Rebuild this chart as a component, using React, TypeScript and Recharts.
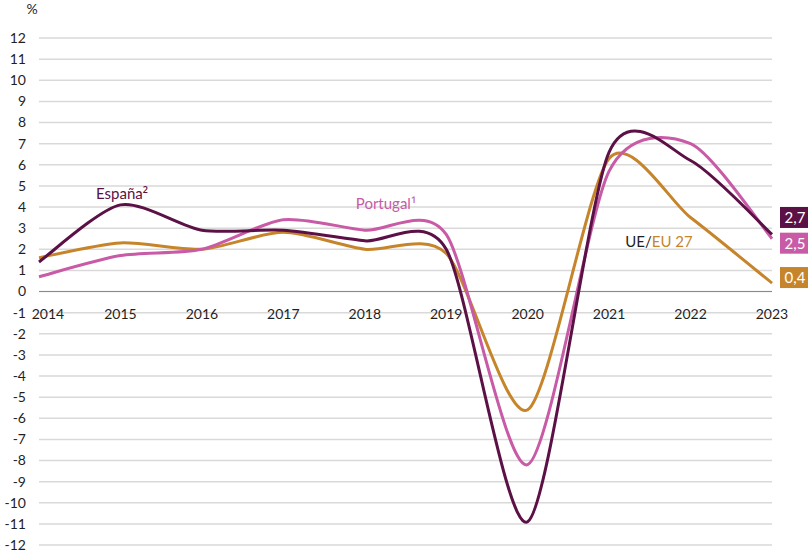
import { LineChart, Line, XAxis, YAxis, CartesianGrid, ReferenceLine, LabelList } from 'recharts';

const years = ['2014', '2015', '2016', '2017', '2018', '2019', '2020', '2021', '2022', '2023'];
const espana = [1.4, 4.1, 2.9, 2.9, 2.4, 2.0, -10.9, 6.6, 6.2, 2.7];
const portugal = [0.7, 1.7, 2.0, 3.4, 2.9, 2.7, -8.2, 5.7, 7.0, 2.5];
const eu27 = [1.6, 2.3, 2.0, 2.8, 2.0, 1.8, -5.6, 6.3, 3.5, 0.4];
const yTicks = [-12, -11, -10, -9, -8, -7, -6, -5, -4, -3, -2, -1, 0, 1, 2, 3, 4, 5, 6, 7, 8, 9, 10, 11, 12];

const data = years.map((year, i) => ({
  year,
  espana: espana[i],
  portugal: portugal[i],
  eu27: eu27[i],
}));

const W = 808;
const H = 553;
const MARGIN = { top: 38, right: 36, left: 0, bottom: 0 };
const X_AXIS_H = 8;
const Y_MIN = -12;
const Y_MAX = 12;
const PLOT_H = H - MARGIN.top - MARGIN.bottom - X_AXIS_H;
const ZERO_Y = MARGIN.top + (PLOT_H * Y_MAX) / (Y_MAX - Y_MIN);

const FONT = 'Lato, "Noto Sans", sans-serif';
const SUP_FONT = '"Noto Sans", sans-serif';
const C_ES = '#5b1046';
const C_PT = '#c85aa6';
const C_EU = '#c7852b';

// smoothed line through every point, like the spreadsheet's "smoothed line"
const K = 0.13;
function smoothCurve(context: any) {
  let pts: number[][] = [];
  return {
    areaStart() {},
    areaEnd() {},
    lineStart() {
      pts = [];
    },
    point(x: number, y: number) {
      pts.push([+x, +y]);
    },
    lineEnd() {
      const n = pts.length;
      if (!n) return;
      context.moveTo(pts[0][0], pts[0][1]);
      for (let i = 0; i < n - 1; i++) {
        const p0 = pts[Math.max(0, i - 1)];
        const p1 = pts[i];
        const p2 = pts[i + 1];
        const p3 = pts[Math.min(n - 1, i + 2)];
        context.bezierCurveTo(
          p1[0] + (p2[0] - p0[0]) * K,
          p1[1] + (p2[1] - p0[1]) * K,
          p2[0] - (p3[0] - p1[0]) * K,
          p2[1] - (p3[1] - p1[1]) * K,
          p2[0],
          p2[1],
        );
      }
    },
  };
}

function YearTick({ x, payload, index }: any) {
  const dx = index === 0 ? 9 : 0;
  return (
    <text x={x + dx} y={ZERO_Y + 27} textAnchor="middle" fill="#1f1f1f" fontSize={14} fontFamily={FONT}>
      {payload.value}
    </text>
  );
}

function endLabel(color: string, dy: number) {
  return (props: any) => {
    const { x, y, value, index } = props;
    if (index !== years.length - 1) return null;
    const cy = y + dy;
    return (
      <g>
        <rect x={x + 8} y={cy - 10.5} width={30} height={21} fill={color} />
        <text x={x + 23} y={cy} dy="0.36em" textAnchor="middle" fill="#ffffff" fontSize={15} fontFamily={FONT}>
          {String(value).replace('.', ',')}
        </text>
      </g>
    );
  };
}

export default function App() {
  return (
    <div style={{ position: 'relative', width: W, height: H }}>
      <style>{'html,body{margin:0;padding:0;overflow:hidden}'}</style>
      <LineChart width={W} height={H} data={data} margin={MARGIN}>
        <CartesianGrid vertical={false} stroke="#d9d9d9" strokeWidth={1.5} />
        <XAxis
          dataKey="year"
          height={X_AXIS_H}
          axisLine={false}
          tickLine={false}
          interval={0}
          padding={{ left: 0, right: 0 }}
          tick={<YearTick />}
        />
        <YAxis
          width={39}
          domain={[Y_MIN, Y_MAX]}
          ticks={yTicks}
          interval={0}
          axisLine={false}
          tickLine={false}
          tickSize={0}
          tickMargin={13}
          tick={{ fill: '#1f1f1f', fontSize: 14, fontFamily: FONT }}
        />
        <ReferenceLine y={0} stroke="#8a8a8a" strokeWidth={1} />
        <Line dataKey="eu27" type={smoothCurve} stroke={C_EU} strokeWidth={3} dot={false} isAnimationActive={false}>
          <LabelList dataKey="eu27" content={endLabel(C_EU, -5.5)} />
        </Line>
        <Line dataKey="portugal" type={smoothCurve} stroke={C_PT} strokeWidth={3} dot={false} isAnimationActive={false}>
          <LabelList dataKey="portugal" content={endLabel(C_PT, 4.5)} />
        </Line>
        <Line dataKey="espana" type={smoothCurve} stroke={C_ES} strokeWidth={3} dot={false} isAnimationActive={false}>
          <LabelList dataKey="espana" content={endLabel(C_ES, -17)} />
        </Line>
      </LineChart>
      <svg width={W} height={H} style={{ position: 'absolute', left: 0, top: 0, pointerEvents: 'none' }}>
        <text x={32} y={14} textAnchor="middle" fill="#1f1f1f" fontSize={14} fontFamily={FONT}>
          %
        </text>
        <text x={122} y={199} textAnchor="middle" fill={C_ES} fontSize={15} fontFamily={FONT}>
          España<tspan fontFamily={SUP_FONT}>²</tspan>
        </text>
        <text x={386} y={209} textAnchor="middle" fill={C_PT} fontSize={15} fontFamily={FONT}>
          Portugal<tspan fontFamily={SUP_FONT}>¹</tspan>
        </text>
        <text x={659} y={247} textAnchor="middle" fontSize={15} fontFamily={FONT}>
          <tspan fill="#1f1f1f">UE/</tspan>
          <tspan fill={C_EU}>EU 27</tspan>
        </text>
      </svg>
    </div>
  );
}
